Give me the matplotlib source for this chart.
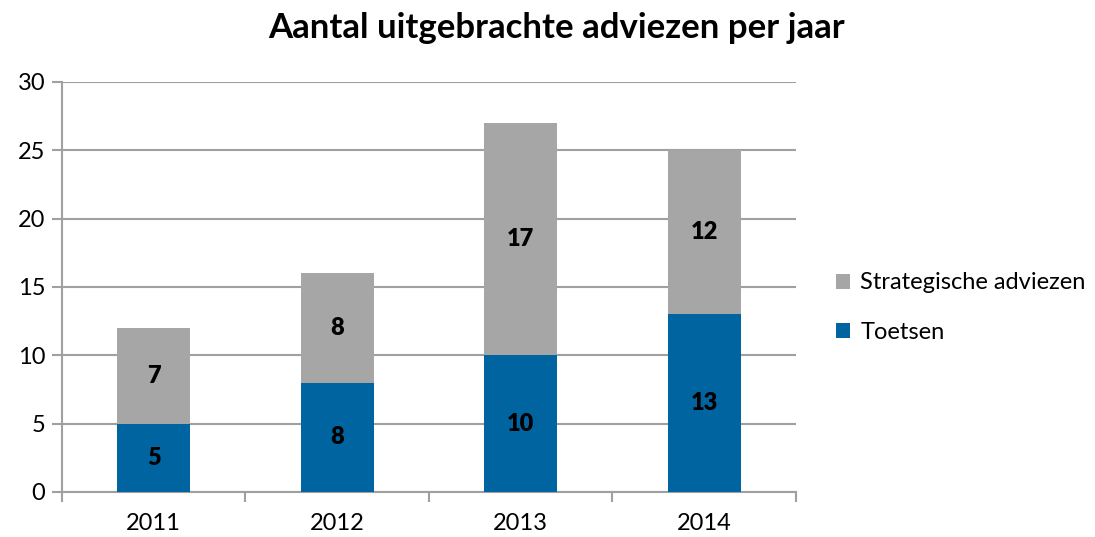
import matplotlib.pyplot as plt
import numpy as np

jaren = ['2011', '2012', '2013', '2014']
toetsen = [5, 8, 10, 13]
strategisch = [7, 8, 17, 12]

blauw = '#0064A0'
grijs = '#A6A6A6'
lijn = '#A0A0A0'

plt.rcParams['font.family'] = ['Lato', 'DejaVu Sans']

fig = plt.figure(figsize=(10.95, 5.37), dpi=100)
ax = fig.add_axes([0.0566, 0.0838, 0.6703, 0.7635])

x = np.arange(len(jaren))
b1 = ax.bar(x, toetsen, width=0.4, color=blauw, label='Toetsen', zorder=3)
b2 = ax.bar(x, strategisch, width=0.4, bottom=toetsen, color=grijs,
            label='Strategische adviezen', zorder=3)

# waarden in de balken
for i in range(len(jaren)):
    ax.text(x[i], toetsen[i] / 2, str(toetsen[i]), ha='center', va='center',
            fontsize=17, fontweight='heavy', zorder=4)
    ax.text(x[i], toetsen[i] + strategisch[i] / 2, str(strategisch[i]),
            ha='center', va='center', fontsize=17, fontweight='heavy', zorder=4)

ax.set_xlim(-0.5, 3.5)
ax.set_ylim(0, 30)
ax.set_yticks(range(0, 31, 5))
ax.set_xticks(x)
ax.set_xticklabels(jaren)
ax.set_xticks(np.arange(-0.5, 4, 1), minor=True)
ax.tick_params(axis='x', which='major', length=0, labelsize=17, pad=15)
ax.tick_params(axis='x', which='minor', length=7, width=1.5, color=lijn)
ax.tick_params(axis='y', length=7, width=1.5, color=lijn, labelsize=17, pad=5)
ax.yaxis.grid(True, color=lijn, linewidth=1.5, zorder=0)

for s in ['top', 'right']:
    ax.spines[s].set_visible(False)
for s in ['left', 'bottom']:
    ax.spines[s].set_color(lijn)
    ax.spines[s].set_linewidth(1.5)

fig.suptitle('Aantal uitgebrachte adviezen per jaar', fontsize=25,
             fontweight='bold', x=0.508, y=0.978)

handles = [b2, b1]
ax.legend(handles, [h.get_label() for h in handles], loc='center left',
          bbox_to_anchor=(1.025, 0.45), frameon=False, fontsize=17,
          handlelength=0.6, handleheight=0.6, handletextpad=0.45,
          labelspacing=1.2)

fig.savefig('out.png', dpi=100)
